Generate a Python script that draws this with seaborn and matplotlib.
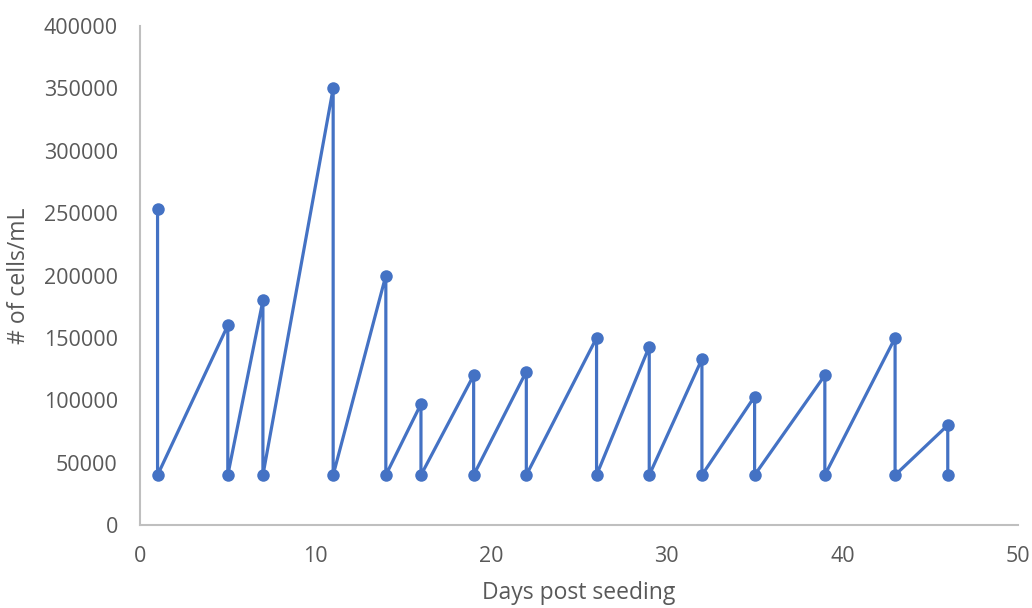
import matplotlib
matplotlib.use("Agg")
import matplotlib.pyplot as plt
import seaborn as sns
import pandas as pd

days = [1, 1, 5, 5, 7, 7, 11, 11, 14, 14, 16, 16, 19, 19, 22, 22, 26, 26,
        29, 29, 32, 32, 35, 35, 39, 39, 43, 43, 46, 46]
cells = [253000, 40000, 160000, 40000, 180000, 40000, 350000, 40000,
         200000, 40000, 97000, 40000, 120000, 40000, 123000, 40000,
         150000, 40000, 143000, 40000, 133000, 40000, 103000, 40000,
         120000, 40000, 150000, 40000, 80000, 40000]
x_ticks = [0, 10, 20, 30, 40, 50]
y_ticks = [0, 50000, 100000, 150000, 200000, 250000, 300000, 350000, 400000]

sns.set_theme(style="white")
plt.rcParams['font.family'] = ['Open Sans', 'DejaVu Sans']

df = pd.DataFrame({"Days post seeding": days, "# of cells/mL": cells})

fig = plt.figure(figsize=(10.32, 6.08), dpi=100)
ax = fig.add_axes([140/1032, 83/608, 878/1032, 499/608])
color = "#4472C4"
sns.lineplot(data=df, x="Days post seeding", y="# of cells/mL", sort=False,
             estimator=None, ax=ax, color=color, linewidth=2.3,
             marker="o", markersize=9, markeredgewidth=0)

ax.set_xlim(0, 50)
ax.set_ylim(0, 400000)
ax.set_xticks(x_ticks)
ax.set_yticks(y_ticks)
ax.set_xticklabels([str(t) for t in x_ticks])
ax.set_yticklabels([str(t) for t in y_ticks])
ax.tick_params(axis="both", length=0, labelsize=15.5, labelcolor="#595959")
ax.tick_params(axis="y", pad=16)
ax.tick_params(axis="x", pad=15)
ax.set_xlabel("Days post seeding", fontsize=16.5, color="#595959", labelpad=10)
ax.set_ylabel("# of cells/mL", fontsize=16.5, color="#595959", labelpad=9)
for s in ["top", "right"]:
    ax.spines[s].set_visible(False)
for s in ["left", "bottom"]:
    ax.spines[s].set_color("#BFBFBF")
    ax.spines[s].set_linewidth(1.5)
ax.grid(False)

fig.savefig("out.png", dpi=100)
